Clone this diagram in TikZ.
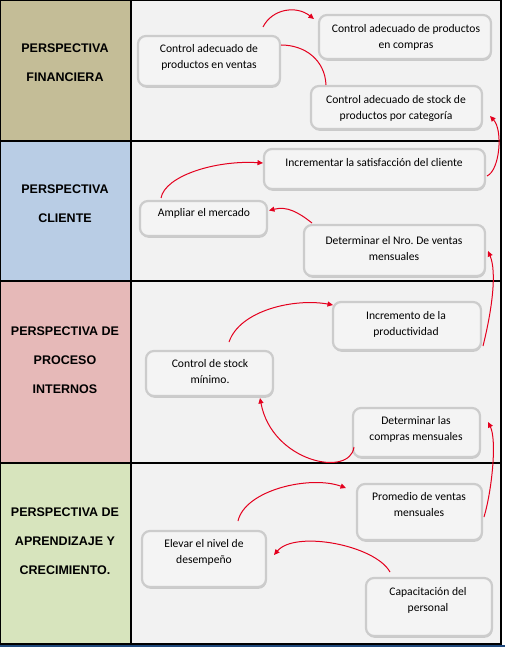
\documentclass[tikz,border=0pt]{standalone}
\usepackage{fontspec}
\setmainfont{Carlito}
\newfontfamily\headfont{Liberation Sans}
\usetikzlibrary{arrows.meta,shadows,calc}
\definecolor{finc}{RGB}{196,189,151}
\definecolor{clic}{RGB}{185,205,229}
\definecolor{proc}{RGB}{230,185,184}
\definecolor{aprc}{RGB}{215,228,189}
\definecolor{panel}{RGB}{242,242,242}
\definecolor{boxfill}{RGB}{244,244,244}
\definecolor{boxline}{RGB}{204,204,204}
\definecolor{myred}{RGB}{228,0,30}
\definecolor{bottomblue}{RGB}{31,73,125}
\frenchspacing
\begin{document}
\begin{tikzpicture}[x=1pt,y=-1pt,
  head/.style={font={\headfont\bfseries\fontsize{12.5}{29}\selectfont},align=center,inner sep=0pt},
  card/.style={draw=boxline,line width=2.2pt,fill=boxfill,rounded corners=8pt,inner sep=0pt,outer sep=0pt,
    drop shadow={shadow xshift=0.6pt,shadow yshift=-1.8pt,opacity=0.35,fill=gray}},
  txt/.style={font={\fontsize{11.6}{16}\selectfont},align=center,inner sep=0pt,text=black},
  arr/.style={draw=myred,line width=1pt,-{Triangle[length=5.5pt,width=5pt]}},
  lnk/.style={draw=myred,line width=1pt}]
\useasboundingbox (0,0) rectangle (505,647);
\fill[white] (0,0) rectangle (505,647);
% column fills
\fill[finc] (0,0) rectangle (131,141);
\fill[clic] (0,141) rectangle (131,281);
\fill[proc] (0,281) rectangle (131,463);
\fill[aprc] (0,463) rectangle (131,644);
\fill[panel] (131,0) rectangle (501,644);
% grid
\draw[line width=1.3pt] (0.7,0.7) rectangle (501,644);
\draw[line width=1.3pt] (0,141) -- (501,141);
\draw[line width=1.3pt] (0,281) -- (501,281);
\draw[line width=1.3pt] (0,463) -- (501,463);
\draw[line width=1.3pt] (131,0) -- (131,644);
\draw[bottomblue,line width=2pt] (0,646) -- (505,646);
% headings
\node[head] (hfin) at (65,63) {PERSPECTIVA\\FINANCIERA};
\node[head] (hcli) at (65,203.5) {PERSPECTIVA\\CLIENTE};
\node[head] (hpro) at (65,360) {PERSPECTIVA DE\\PROCESO\\INTERNOS};
\node[head] (hapr) at (65,541) {PERSPECTIVA DE\\APRENDIZAJE Y\\CRECIMIENTO.};
% boxes
\node[card,minimum width=142pt,minimum height=50pt] (vent) at (209,61) {};
\node[card,minimum width=172pt,minimum height=44pt] (comp) at (405,37) {};
\node[card,minimum width=171pt,minimum height=43pt] (stock) at (396.5,107.5) {};
\node[card,minimum width=221pt,minimum height=40pt] (incr) at (374.5,169) {};
\node[card,minimum width=127pt,minimum height=35pt] (ampl) at (203.5,218.5) {};
\node[card,minimum width=181pt,minimum height=51pt] (detv) at (394.5,250.5) {};
\node[card,minimum width=148pt,minimum height=48pt] (prod) at (407,326) {};
\node[card,minimum width=127pt,minimum height=45pt] (cstk) at (209.5,373.5) {};
\node[card,minimum width=127pt,minimum height=49pt] (detc) at (416.5,432.5) {};
\node[card,minimum width=125pt,minimum height=56pt] (prom) at (419.5,512) {};
\node[card,minimum width=124pt,minimum height=56pt] (elev) at (204,559) {};
\node[card,minimum width=126pt,minimum height=58pt] (capa) at (429,607) {};
% texts
\node[txt] (tvent) at (209,57.5) {Control adecuado de\\productos en ventas};
\node[txt] (tcomp) at (406,37) {Control adecuado de productos\\en compras};
\node[txt] (tstock) at (396,108.5) {Control adecuado de stock de\\productos por categoría};
\node[txt] (tincr) at (374,163) {Incrementar la satisfacción del cliente};
\node[txt] (tampl) at (204,213) {Ampliar el mercado};
\node[txt] (tdetv) at (394,248.5) {Determinar el Nro. De ventas\\mensuales};
\node[txt] (tprod) at (406,324) {Incremento de la\\productividad};
\node[txt] (tcstk) at (210,372) {Control de stock\\mínimo.};
\node[txt] (tdetc) at (416,429.5) {Determinar las\\compras mensuales};
\node[txt] (tprom) at (419,504.5) {Promedio de ventas\\mensuales};
\node[txt] (telev) at (204,552.5) {Elevar el nivel de\\desempeño};
\node[txt] (tcapa) at (428,600.5) {Capacitación del\\personal};
% connectors
\draw[arr] ($(vent.north east)+(-17,-9)$) .. controls (272,9) and (296,5) .. ($(comp.north west)+(-5,4)$);
\draw[lnk] ($(vent.north east)+(1,9)$) .. controls (305,45) and (325,60) .. ($(stock.north west)+(15,-1)$);
\draw[arr] ($(incr.south east)+(2,-13)$) .. controls (500,170) and (503,130) .. ($(stock.south east)+(8,-13)$);
\draw[arr] ($(ampl.north west)+(21,-3)$) .. controls (165,176) and (215,160) .. ($(incr.west)+(-1,-6)$);
\draw[arr] ($(detv.north west)+(8,-2)$) .. controls (298,212) and (287,206) .. ($(ampl.east)+(2,-8)$);
\draw[arr] ($(prod.south east)+(2,-4)$) .. controls (492,310) and (497,272) .. ($(detv.south east)+(3,-25)$);
\draw[arr] ($(cstk.north)+(19.5,-9)$) .. controls (240,310) and (295,298) .. ($(prod.west)+(0,-21)$);
\draw[arr] ($(detc.south west)+(1,-10)$) .. controls (350,478) and (272,462) .. ($(cstk.south)+(50.5,2)$);
\draw[arr] ($(prom.east)+(2,5)$) .. controls (492,490) and (497,440) .. ($(detc.east)+(8,-10.5)$);
\draw[arr] ($(elev.north)+(34,-10)$) .. controls (245,490) and (310,475) .. ($(prom.north west)+(-11,4)$);
\draw[arr] ($(capa.north west)+(24,-6)$) .. controls (375,545) and (295,530) .. ($(elev.east)+(8,-4)$);
\end{tikzpicture}
\end{document}
